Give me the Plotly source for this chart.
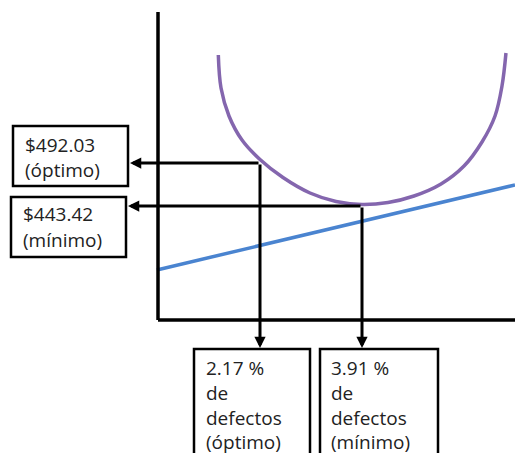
import plotly.graph_objects as go

# ---- data (x: % defects, y: cost $) ----
curve_pct = [1.459, 1.505, 1.641, 1.863, 2.170, 2.562, 3.023, 3.467, 3.910,
             4.354, 4.797, 5.258, 5.650, 5.957, 6.179, 6.298, 6.366]
curve_cost = [614.1, 576.8, 545.2, 518.0, 496.0, 475.6, 458.1, 448.5, 445.1,
              447.4, 454.7, 468.3, 488.6, 515.8, 545.2, 579.1, 616.4]
line_pct = [0.41, 6.52]
line_cost = [371.1, 467.2]

opt_pct, opt_cost = 2.17, 492.03
min_pct, min_cost = 3.91, 443.42
axis_origin_pct, axis_origin_cost = 0.43, 314.55
axis_top_cost = 662.73

cost_labels = [f"${opt_cost:.2f}<br>(óptimo)", f"${min_cost:.2f}<br>(mínimo)"]
pct_labels = [f"{opt_pct:.2f} %<br>de<br>defectos<br>(óptimo)",
              f"{min_pct:.2f} %<br>de<br>defectos<br>(mínimo)"]

# ---- layout helpers ----
W, H = 515, 453
X_RANGE = [-2.2653, 6.52]
Y_RANGE = [164.19, 676.30]


def px_x(px):
    return X_RANGE[0] + px / W * (X_RANGE[1] - X_RANGE[0])


def py_y(py):
    return Y_RANGE[1] - py / H * (Y_RANGE[1] - Y_RANGE[0])


fig = go.Figure()
fig.add_trace(go.Scatter(x=line_pct, y=line_cost, mode="lines",
                         line=dict(color="#4A84D0", width=3.5), hoverinfo="skip"))
fig.add_trace(go.Scatter(x=curve_pct, y=curve_cost, mode="lines",
                         line=dict(color="#8466AE", width=3.5, shape="spline", smoothing=1),
                         hoverinfo="skip"))

# axes lines
fig.add_shape(type="line", x0=axis_origin_pct, x1=X_RANGE[1], y0=axis_origin_cost,
              y1=axis_origin_cost, line=dict(color="black", width=3.5))
fig.add_shape(type="line", x0=axis_origin_pct, x1=axis_origin_pct, y0=axis_origin_cost,
              y1=axis_top_cost, line=dict(color="black", width=3.5))

# boxes (pixel positions)
boxes = [(13, 126, 128, 186), (11, 197, 126, 257), (194, 349, 310, 470), (320, 349, 438, 470)]
for (l, t, r, b) in boxes:
    fig.add_shape(type="rect", x0=px_x(l), x1=px_x(r), y0=py_y(b), y1=py_y(t),
                  line=dict(color="black", width=2.5), fillcolor="white", layer="above")

# arrows
tip_y = py_y(348)
arrows = [
    (px_x(130), opt_cost, opt_pct, opt_cost),
    (opt_pct, tip_y, opt_pct, opt_cost),
    (px_x(128), min_cost, min_pct, min_cost),
    (min_pct, tip_y, min_pct, min_cost),
]
for (x, y, ax, ay) in arrows:
    fig.add_annotation(x=x, y=y, ax=ax, ay=ay, xref="x", yref="y", axref="x", ayref="y",
                       text="", showarrow=True, arrowhead=2, arrowsize=0.75, arrowwidth=3,
                       arrowcolor="black", standoff=0)

font = dict(family="Open Sans", size=19, color="#222")
label_places = [
    (cost_labels[0], 24, [145, 170]),
    (cost_labels[1], 22, [214, 240]),
    (pct_labels[0], 205, [368, 393, 418, 442]),
    (pct_labels[1], 330, [368, 393, 418, 442]),
]
for lab, px, ys in label_places:
    for part, py in zip(lab.split("<br>"), ys):
        fig.add_annotation(x=px_x(px), y=py_y(py), xref="x", yref="y", text=part,
                           showarrow=False, xanchor="left", yanchor="middle", align="left",
                           font=font, borderpad=0)

fig.update_layout(
    width=W, height=H, margin=dict(l=0, r=0, t=0, b=0),
    paper_bgcolor="white", plot_bgcolor="white", showlegend=False,
    xaxis=dict(range=X_RANGE, visible=False, fixedrange=True),
    yaxis=dict(range=Y_RANGE, visible=False, fixedrange=True),
)
fig.write_html("out.html", post_script="document.body.style.margin='0px';",
               config={"displayModeBar": False})
